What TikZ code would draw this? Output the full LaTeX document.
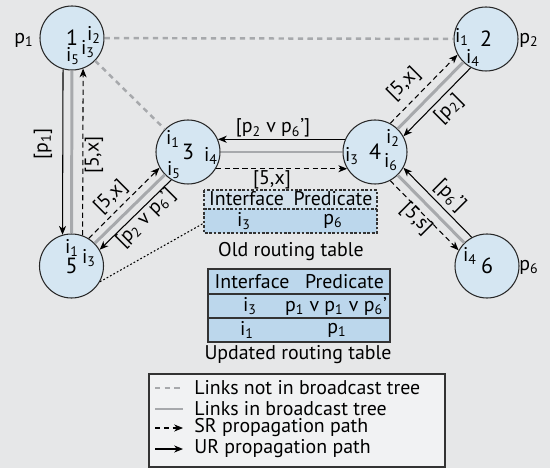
\documentclass[tikz,border=0pt]{standalone}
\usepackage{fontspec}
\setmainfont{PT Sans}
\usetikzlibrary{arrows.meta}

\definecolor{bgcol}{HTML}{E6E7E8}
\definecolor{routerfill}{HTML}{D5E6F2}
\definecolor{rowfill}{HTML}{BCD7EC}
\definecolor{headfill}{HTML}{D3E1EC}
\definecolor{legendfill}{HTML}{F1F2F3}
\definecolor{linkgray}{HTML}{A7A9AC}

\begin{document}
\begin{tikzpicture}[>={Stealth[length=5pt,width=4pt,inset=1.5pt]},
    font=\fontsize{11.3}{13}\selectfont,
    router/.style={circle, draw=black!85, line width=0.6pt, fill=routerfill,
        minimum size=1.28cm, inner sep=0pt, font=\fontsize{12.5}{14}\selectfont},
    iface/.style={inner sep=0pt},
    lbl/.style={inner sep=0pt},
    treelink/.style={draw=linkgray, line width=1.7pt},
    nontreelink/.style={draw=linkgray, line width=1.4pt, dash pattern=on 3pt off 2.5pt},
    srpath/.style={->, line width=0.6pt, dash pattern=on 3pt off 2pt},
    urpath/.style={->, line width=0.6pt},
    tabline/.style={draw=black!80, line width=0.6pt}]

    % background
    \fill[bgcol] (0,0) rectangle (11,-9.36);
    \useasboundingbox (0,0) rectangle (11,-9.36);

    % routers
    \node[router] (r1) at (1.44,-0.76) {1};
    \node[router] (r2) at (9.72,-0.78) {2};
    \node[router] (r3) at (3.76,-3.04) {3};
    \node[router] (r4) at (7.50,-3.04) {4};
    \node[router] (r5) at (1.43,-5.32) {5};
    \node[router] (r6) at (9.74,-5.32) {6};

    % interfaces
    \node[iface] (r1i2) at (1.88,-0.70) {i\textsubscript{2}};
    \node[iface] (r1i3) at (1.76,-0.98) {i\textsubscript{3}};
    \node[iface] (r1i5) at (1.46,-1.12) {i\textsubscript{5}};
    \node[iface] (r2i1) at (9.24,-0.74) {i\textsubscript{1}};
    \node[iface] (r2i4) at (9.46,-1.16) {i\textsubscript{4}};
    \node[iface] (r3i1) at (3.46,-2.78) {i\textsubscript{1}};
    \node[iface] (r3i4) at (4.22,-3.12) {i\textsubscript{4}};
    \node[iface] (r3i5) at (3.48,-3.40) {i\textsubscript{5}};
    \node[iface] (r4i3) at (7.04,-3.12) {i\textsubscript{3}};
    \node[iface] (r4i2) at (7.86,-2.76) {i\textsubscript{2}};
    \node[iface] (r4i6) at (7.82,-3.24) {i\textsubscript{6}};
    \node[iface] (r5i1) at (1.44,-4.96) {i\textsubscript{1}};
    \node[iface] (r5i3) at (1.78,-5.16) {i\textsubscript{3}};
    \node[iface] (r6i4) at (9.40,-5.12) {i\textsubscript{4}};

    % predicates
    \node[lbl] (p1) at (0.48,-0.80) {p\textsubscript{1}};
    \node[lbl] (p2) at (10.58,-0.80) {p\textsubscript{2}};
    \node[lbl] (p6) at (10.58,-5.34) {p\textsubscript{6}};

    % links not in tree
    \draw[nontreelink] (r1) -- (r2);
    \draw[nontreelink] (r1) -- (r3);

    % 1 -- 5
    \draw[treelink] (r1) -- (r5);
    \draw[urpath] (r1.254) -- (r5.106);
    \draw[srpath] (r5.70) -- (r1.290);
    \node[lbl, rotate=90] (l15a) at (0.86,-2.88) {[p\textsubscript{1}]};
    \node[lbl, rotate=90] (l15b) at (1.88,-3.10) {[5,x]};

    % 5 -- 3
    \draw[treelink] (r5) -- (r3);
    \draw[srpath] (r5.58) -- (r3.209);
    \draw[urpath] (r3.239) -- (r5.30);
    \node[lbl, rotate=45] (l53a) at (2.22,-3.94) {[5,x]};
    \node[lbl, rotate=45] (l53b) at (2.92,-4.36) {[p\textsubscript{2} v p\textsubscript{6}’]};

    % 3 -- 4
    \draw[treelink] (r3) -- (r4);
    \draw[urpath] (r4.157) -- (r3.23);
    \draw[srpath] (r3.-31) -- (r4.211);
    \node[lbl] (l34a) at (5.46,-2.56) {[p\textsubscript{2} v p\textsubscript{6}’]};
    \node[lbl] (l34b) at (5.44,-3.60) {[5,x]};

    % 4 -- 2
    \draw[treelink] (r4) -- (r2);
    \draw[srpath] (r4.62) -- (r2.209);
    \draw[urpath] (r2.242) -- (r4.29);
    \node[lbl, rotate=45] (l42a) at (8.08,-1.68) {[5,x]};
    \node[lbl, rotate=45] (l42b) at (8.98,-2.18) {[p\textsubscript{2}]};

    % 4 -- 6
    \draw[treelink] (r4) -- (r6);
    \draw[urpath] (r6.118) -- (r4.331);
    \draw[srpath] (r4.298) -- (r6.151);
    \node[lbl, rotate=-45] (l46a) at (9.00,-3.92) {[p\textsubscript{6}’]};
    \node[lbl, rotate=-45] (l46b) at (8.32,-4.38) {[5,s]};

    % old routing table
    \fill[headfill] (4.08,-3.80) rectangle (7.54,-4.18);
    \fill[rowfill] (4.08,-4.18) rectangle (7.54,-4.66);
    \draw[tabline, dash pattern=on 1.5pt off 1pt] (4.08,-3.80) rectangle (7.54,-4.66);
    \draw[tabline, dash pattern=on 1.5pt off 1pt] (4.08,-4.18) -- (7.54,-4.18);
    \node[lbl] (oldh1) at (4.93,-3.98) {Interface};
    \node[lbl] (oldh2) at (6.66,-3.98) {Predicate};
    \node[lbl] (oldi) at (4.88,-4.42) {i\textsubscript{3}};
    \node[lbl] (oldp) at (6.66,-4.42) {p\textsubscript{6}};
    \node[lbl] (oldcap) at (5.82,-5.04) {Old routing table};
    \coordinate (oldtab) at (4.08,-4.46);
    \draw[line width=0.6pt, dash pattern=on 1pt off 1.2pt] (r5.-29) -- (oldtab);

    % updated routing table
    \fill[rowfill] (4.16,-5.38) rectangle (7.80,-6.84);
    \draw[tabline] (4.16,-5.38) rectangle (7.80,-6.84);
    \draw[tabline] (4.16,-5.88) -- (7.80,-5.88);
    \draw[tabline] (4.16,-6.36) -- (7.80,-6.36);
    \node[lbl] (newh1) at (5.04,-5.64) {Interface};
    \node[lbl] (newh2) at (6.89,-5.64) {Predicate};
    \node[lbl] (newi3) at (5.00,-6.12) {i\textsubscript{3}};
    \node[lbl] (newp3) at (6.72,-6.12) {p\textsubscript{1} v p\textsubscript{1} v p\textsubscript{6}’};
    \node[lbl] (newi1) at (4.94,-6.60) {i\textsubscript{1}};
    \node[lbl] (newp1) at (6.74,-6.60) {p\textsubscript{1}};
    \node[lbl] (newcap) at (5.96,-7.10) {Updated routing table};

    % legend
    \draw[tabline, fill=legendfill] (2.98,-7.48) rectangle (8.90,-9.34);
    \draw[nontreelink] (3.10,-7.76) -- (3.66,-7.76);
    \node[lbl, anchor=west] (leg1) at (3.88,-7.76) {Links not in broadcast tree};
    \draw[treelink] (3.10,-8.18) -- (3.66,-8.18);
    \node[lbl, anchor=west] (leg2) at (3.88,-8.18) {Links in broadcast tree};
    \draw[srpath] (3.10,-8.56) -- (3.66,-8.56);
    \node[lbl, anchor=west] (leg3) at (3.88,-8.56) {SR propagation path};
    \draw[urpath] (3.10,-8.98) -- (3.66,-8.98);
    \node[lbl, anchor=west] (leg4) at (3.88,-8.98) {UR propagation path};
\end{tikzpicture}
\end{document}
